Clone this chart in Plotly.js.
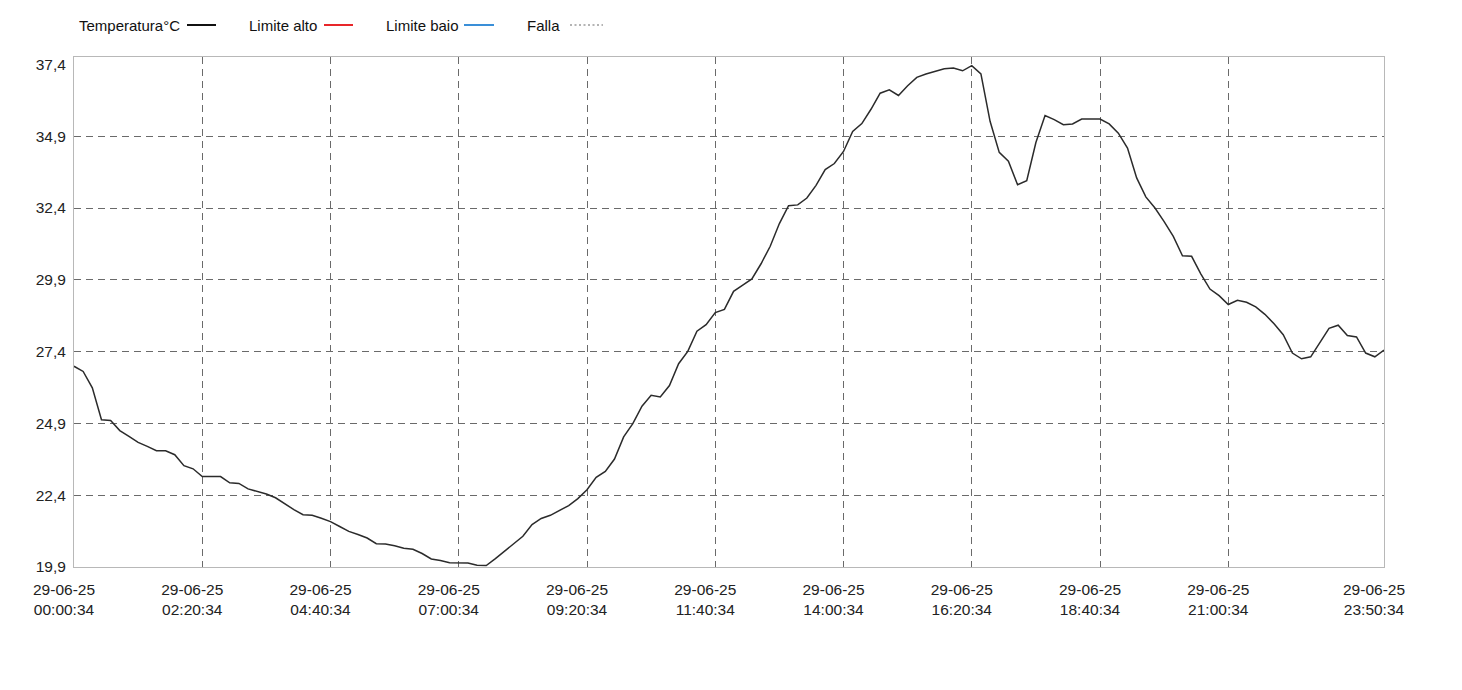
<!DOCTYPE html>
<html>
<head>
<meta charset="utf-8">
<script src="https://cdn.plot.ly/plotly-3.0.1.min.js"></script>
<style>
  html, body { margin: 0; padding: 0; background: #ffffff; }
  #chart { width: 1462px; height: 690px; }
</style>
</head>
<body>
<div id="chart"></div>
<script>
// ---- Data (10-minute samples, 29-06-25 00:00:34 to 23:50:34) ----
const dayDate = '2025-06-29';
const firstSampleSeconds = 34;
const sampleStepMinutes = 10;

const temp00to06 = [26.89, 26.71, 26.14, 25.03, 25.00, 24.65, 24.45, 24.24, 24.10, 23.95, 23.95, 23.81,
                    23.43, 23.32, 23.05, 23.05, 23.05, 22.83, 22.81, 22.62, 22.52, 22.44, 22.31, 22.10,
                    21.90, 21.72, 21.70, 21.60, 21.48, 21.31, 21.14, 21.03, 20.91, 20.71, 20.70, 20.64];
const temp06to12 = [20.55, 20.52, 20.37, 20.18, 20.13, 20.05, 20.04, 20.04, 19.96, 19.95, 20.19, 20.45,
                    20.68, 20.97, 21.38, 21.59, 21.70, 21.88, 22.04, 22.28, 22.59, 23.02, 23.23, 23.66,
                    24.43, 24.89, 25.50, 25.88, 25.82, 26.22, 26.98, 27.41, 28.11, 28.34, 28.76, 28.87];
const temp12to18 = [29.50, 29.72, 29.93, 30.46, 31.07, 31.86, 32.48, 32.51, 32.75, 33.19, 33.74, 33.95,
                    34.37, 35.07, 35.34, 35.84, 36.40, 36.52, 36.32, 36.66, 36.95, 37.07, 37.16, 37.25,
                    37.28, 37.18, 37.36, 37.07, 35.42, 34.34, 34.03, 33.21, 33.35, 34.68, 35.62, 35.48];
const temp18to24 = [35.30, 35.33, 35.50, 35.50, 35.50, 35.33, 35.01, 34.49, 33.45, 32.79, 32.40, 31.93,
                    31.41, 30.74, 30.72, 30.11, 29.58, 29.35, 29.04, 29.19, 29.12, 28.96, 28.70, 28.37,
                    27.99, 27.35, 27.15, 27.22, 27.70, 28.21, 28.32, 27.96, 27.91, 27.35, 27.22, 27.45];

const xTickTimes = ['2025-06-29 00:00:34', '2025-06-29 02:20:34', '2025-06-29 04:40:34', '2025-06-29 07:00:34',
                    '2025-06-29 09:20:34', '2025-06-29 11:40:34', '2025-06-29 14:00:34', '2025-06-29 16:20:34',
                    '2025-06-29 18:40:34', '2025-06-29 21:00:34', '2025-06-29 23:50:34'];
const xTickLabels = ['29-06-25<br>00:00:34', '29-06-25<br>02:20:34', '29-06-25<br>04:40:34', '29-06-25<br>07:00:34',
                     '29-06-25<br>09:20:34', '29-06-25<br>11:40:34', '29-06-25<br>14:00:34', '29-06-25<br>16:20:34',
                     '29-06-25<br>18:40:34', '29-06-25<br>21:00:34', '29-06-25<br>23:50:34'];
const yTickValues = [19.9, 22.4, 24.9, 27.4, 29.9, 32.4, 34.9, 37.4];
const yTickLabels = ['19,9', '22,4', '24,9', '27,4', '29,9', '32,4', '34,9', '37,4'];
const yGridValues = [22.4, 24.9, 27.4, 29.9, 32.4, 34.9];

const legendNames = ['Temperatura°C', 'Limite alto', 'Limite baio', 'Falla'];

// ---- Build ----
const temperature = temp00to06.concat(temp06to12, temp12to18, temp18to24);
function pad2(n) { return (n < 10 ? '0' : '') + n; }
const sampleTimes = temperature.map(function (_, i) {
  const m = i * sampleStepMinutes;
  return dayDate + ' ' + pad2(Math.floor(m / 60)) + ':' + pad2(m % 60) + ':' + pad2(firstSampleSeconds);
});

const W = 1462, H = 690;
const M = { l: 74, r: 78, t: 57, b: 123 };
const plotW = W - M.l - M.r, plotH = H - M.t - M.b;
function px(x) { return (x - M.l) / plotW; }
function py(y) { return (H - M.b - y) / plotH; }

const FONT = 'Liberation Sans, Arial, Helvetica, sans-serif';
const Y_RANGE = [19.9, 37.66];

const legendItems = [
  { name: legendNames[0], textX: 78, lineX0: 187, lineX1: 216, color: '#111111', dash: 'solid', width: 2 },
  { name: legendNames[1], textX: 248, lineX0: 324, lineX1: 353, color: '#e8262a', dash: 'solid', width: 2 },
  { name: legendNames[2], textX: 385, lineX0: 464, lineX1: 494, color: '#3a8fd8', dash: 'solid', width: 2 },
  { name: legendNames[3], textX: 526, lineX0: 570, lineX1: 603, color: '#b4b4b4', dash: '2px,2.5px', width: 2 }
];
const legendY = 25;

const annotations = legendItems.map(function (it) {
  return {
    xref: 'paper', yref: 'paper', x: px(it.textX), y: py(legendY),
    xanchor: 'left', yanchor: 'middle', showarrow: false,
    text: it.name, font: { family: FONT, size: 15, color: '#111111' }, borderpad: 0
  };
});
const shapes = legendItems.map(function (it) {
  return {
    type: 'line', xref: 'paper', yref: 'paper',
    x0: px(it.lineX0), x1: px(it.lineX1), y0: py(legendY), y1: py(legendY),
    line: { color: it.color, width: it.width, dash: it.dash }
  };
});

const gridHelper = {
  type: 'scatter', mode: 'lines',
  x: sampleTimes, y: temperature, yaxis: 'y2',
  line: { color: 'rgba(0,0,0,0)', width: 0 },
  hoverinfo: 'skip', showlegend: false
};
const trace = {
  type: 'scatter', mode: 'lines',
  x: sampleTimes, y: temperature,
  line: { color: '#2b2b2b', width: 1.5 },
  name: legendNames[0], hoverinfo: 'x+y'
};

const gridStyle = { gridcolor: '#6a6a6a', gridwidth: 1, griddash: '7px,5px' };

const layout = {
  width: W, height: H,
  margin: M,
  paper_bgcolor: '#ffffff', plot_bgcolor: '#ffffff',
  showlegend: false,
  font: { family: FONT, size: 15.5, color: '#222222' },
  xaxis: Object.assign({
    type: 'date',
    range: [xTickTimes[0], xTickTimes[xTickTimes.length - 1]],
    tickmode: 'array', tickvals: xTickTimes, ticktext: xTickLabels,
    ticks: '', ticklabelshift: -10, ticklabelstandoff: 8,
    showgrid: true,
    showline: true, linecolor: '#b8b8b8', linewidth: 1, mirror: true,
    zeroline: false, fixedrange: true,
    tickfont: { family: FONT, size: 15.5, color: '#222222' }
  }, gridStyle),
  yaxis: {
    range: Y_RANGE,
    tickmode: 'array', tickvals: yTickValues, ticktext: yTickLabels,
    ticks: '', ticklabelstandoff: 4,
    showgrid: false,
    showline: true, linecolor: '#b8b8b8', linewidth: 1, mirror: true,
    zeroline: false, fixedrange: true,
    tickfont: { family: FONT, size: 15.5, color: '#222222' }
  },
  yaxis2: Object.assign({
    overlaying: 'y', side: 'left',
    range: Y_RANGE,
    tickmode: 'array', tickvals: yGridValues,
    showticklabels: false, ticks: '',
    showgrid: true, showline: false, zeroline: false, fixedrange: true
  }, gridStyle),
  annotations: annotations,
  shapes: shapes
};

Plotly.newPlot('chart', [gridHelper, trace], layout, { displayModeBar: false, staticPlot: true });
</script>
</body>
</html>
